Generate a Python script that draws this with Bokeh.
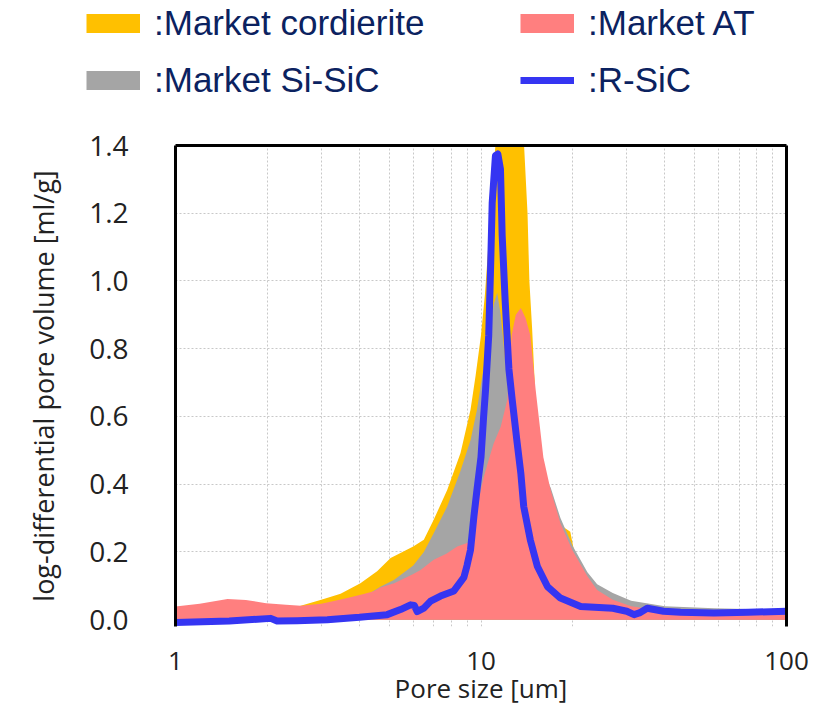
from bokeh.plotting import figure
from bokeh.models import (Range1d, FixedTicker, LinearAxis, LogAxis, Legend, LegendItem,
                          NumeralTickFormatter, CustomJSTickFormatter)
from bokeh.layouts import column
from bokeh.embed import file_html
from bokeh.resources import INLINE

# ---------------- data ----------------
series_names = [":Market cordierite", ":Market AT", ":Market Si-SiC", ":R-SiC"]

cord_x = [1.0, 1.5, 2.0, 2.57, 3.0, 3.47, 4.03, 4.57, 5.06, 5.45, 6.0, 6.5, 7.0, 7.75, 8.57,
          9.24, 9.6, 10.0, 10.3, 10.6, 10.9, 11.2, 11.4, 13.4, 13.8, 14.2, 14.4, 14.7, 15.1,
          16.0, 16.9, 18.2, 19.6, 20.2, 20.8, 22.0, 25.0, 30.0, 40.0, 60.0, 100.0]
cord_y = [0.010, 0.015, 0.022, 0.041, 0.059, 0.077, 0.108, 0.143, 0.182, 0.197, 0.216, 0.236,
          0.295, 0.383, 0.492, 0.62, 0.72, 0.84, 0.96, 1.12, 1.30, 1.42, 1.50, 1.50, 1.42, 1.20,
          1.00, 0.86, 0.64, 0.46, 0.37, 0.28, 0.26, 0.20, 0.10, 0.06, 0.035, 0.022, 0.013,
          0.008, 0.005]

sisic_x = [1.0, 2.0, 3.0, 4.0, 4.7, 5.2, 6.0, 6.5, 7.0, 7.75, 8.57, 9.24, 9.7, 10.1, 10.6,
           11.0, 11.3, 11.6, 11.9, 12.3, 13.0, 14.0, 15.0, 16.0, 16.9, 18.2, 19.9, 22.3, 24.0,
           27.0, 31.0, 40.0, 58.0, 80.0, 100.0]
sisic_y = [0.005, 0.012, 0.030, 0.060, 0.098, 0.118, 0.160, 0.200, 0.255, 0.334, 0.440, 0.530,
           0.620, 0.720, 0.840, 0.930, 0.965, 0.900, 0.800, 0.660, 0.550, 0.500, 0.460, 0.430,
           0.390, 0.300, 0.220, 0.140, 0.105, 0.079, 0.056, 0.040, 0.034, 0.031, 0.028]

at_x = [1.0, 1.2, 1.48, 1.7, 1.98, 2.3, 2.57, 3.0, 3.3, 3.65, 4.1, 4.46, 4.69, 5.2, 6.0, 6.34,
        7.0, 7.7, 8.36, 9.25, 9.5, 9.8, 10.2, 10.5, 11.0, 11.6, 12.2, 12.4, 12.6, 13.0, 13.5,
        14.0, 14.5, 15.1, 16.0, 16.9, 18.2, 19.9, 22.3, 24.0, 27.0, 31.0, 40.0, 60.0, 100.0]
at_y = [0.039, 0.047, 0.061, 0.058, 0.049, 0.044, 0.041, 0.047, 0.055, 0.064, 0.075, 0.084,
        0.095, 0.108, 0.135, 0.147, 0.177, 0.195, 0.216, 0.230, 0.280, 0.350, 0.420, 0.460,
        0.520, 0.570, 0.650, 0.750, 0.840, 0.900, 0.920, 0.890, 0.840, 0.678, 0.480, 0.383,
        0.285, 0.206, 0.128, 0.088, 0.059, 0.040, 0.025, 0.018, 0.015]

rsic_x = [1.0, 1.5, 2.05, 2.15, 2.5, 3.14, 4.0, 4.93, 5.45, 5.88, 6.05, 6.18, 6.5, 6.84, 7.37,
          8.15, 8.79, 9.0, 9.24, 9.48, 9.7, 10.0, 10.2, 10.35, 10.6, 10.75, 10.88, 11.15, 11.35,
          11.58, 11.73, 12.0, 12.34, 12.65, 13.1, 13.5, 13.8, 14.5, 15.3, 16.5, 18.2, 21.2,
          27.0, 30.0, 31.7, 33.0, 35.0, 39.6, 45.0, 57.8, 75.0, 100.0]
rsic_y = [-0.008, -0.004, 0.004, -0.004, -0.003, 0.000, 0.007, 0.015, 0.030, 0.044, 0.042,
          0.024, 0.034, 0.055, 0.070, 0.085, 0.125, 0.160, 0.206, 0.305, 0.383, 0.480, 0.600,
          0.680, 0.840, 1.040, 1.230, 1.370, 1.375, 1.330, 1.135, 0.940, 0.740, 0.650, 0.530,
          0.433, 0.334, 0.236, 0.157, 0.098, 0.064, 0.039, 0.034, 0.025, 0.015, 0.020, 0.034,
          0.025, 0.022, 0.020, 0.022, 0.025]

x_ticks = [1, 10, 100]
x_grid = [2, 3, 4, 5, 6, 7, 8, 9, 10, 20, 30, 40, 50, 60, 70, 80, 90]
y_ticks = [0.0, 0.2, 0.4, 0.6, 0.8, 1.0, 1.2, 1.4]
x_title = "Pore size [um]"
y_title = "log-differential pore volume [ml/g]"

C_CORD = "#FFC000"
C_AT = "#FF7F7F"
C_SISIC = "#A5A5A5"
C_RSIC = "#3535F2"
TXT = "#222222"
LEG_TXT = "#0B2260"
AX_FONT = "Open Sans"

# ---------------- legend strip ----------------
lg = figure(width=820, height=110, output_backend="svg", toolbar_location=None,
            x_range=Range1d(0, 1), y_range=Range1d(0, 1), min_border=0,
            x_axis_location=None, y_axis_location=None, outline_line_color=None)
lg.grid.visible = False
# do not align this strip's frame with the chart's frame: legends are clipped to the frame
if "frame_align" in lg.properties():
    lg.frame_align = False

# key renderers: their points lie outside the strip's range, only their legend keys show
d_cord = lg.line(x=[0, 1], y=[5, 5], line_color=C_CORD, line_width=19)
d_at = lg.line(x=[0, 1], y=[5, 5], line_color=C_AT, line_width=19)
d_sisic = lg.line(x=[0, 1], y=[5, 5], line_color=C_SISIC, line_width=19)
d_rsic = lg.line(x=[0, 1], y=[5, 5], line_color=C_RSIC, line_width=7)


def make_legend(items, loc):
    return Legend(items=items, location=loc, orientation="vertical",
                  padding=0, margin=0, spacing=17, label_standoff=14,
                  glyph_width=54, glyph_height=40, label_height=40,
                  label_text_font="Liberation Sans", label_text_font_size="35px",
                  label_text_color=LEG_TXT, border_line_color=None,
                  background_fill_alpha=0)


lg.add_layout(make_legend([LegendItem(label=series_names[0], renderers=[d_cord]),
                           LegendItem(label=series_names[2], renderers=[d_sisic])], (86, 10)))
lg.add_layout(make_legend([LegendItem(label=series_names[1], renderers=[d_at]),
                           LegendItem(label=series_names[3], renderers=[d_rsic])], (520, 10)))

# ---------------- main chart ----------------
p = figure(width=820, height=604, x_axis_type="log",
           x_range=Range1d(1, 100), y_range=Range1d(-0.02, 1.4),
           output_backend="svg", toolbar_location=None,
           min_border_left=175, min_border_right=34, min_border_top=35,
           min_border_bottom=88, outline_line_color=None, background_fill_color="white")
if "frame_align" in p.properties():
    p.frame_align = False

p.varea(x=cord_x, y1=0, y2=cord_y, fill_color=C_CORD)
p.varea(x=sisic_x, y1=0, y2=sisic_y, fill_color=C_SISIC)
p.varea(x=at_x, y1=0, y2=at_y, fill_color=C_AT)
p.line(x=rsic_x, y=rsic_y, line_color=C_RSIC, line_width=7, line_join="round")

# grids
p.xgrid.ticker = FixedTicker(ticks=x_grid)
p.ygrid.ticker = FixedTicker(ticks=y_ticks[1:])
for g in (p.xgrid, p.ygrid):
    g.grid_line_color = "#c8c8c8"
    g.grid_line_dash = "2 2"
    g.grid_line_width = 1

# y axis
ya = p.yaxis[0]
ya.ticker = FixedTicker(ticks=y_ticks)
ya.formatter = NumeralTickFormatter(format="0.0")
ya.axis_line_color = "black"
ya.axis_line_width = 3
ya.major_tick_in = 0
ya.major_tick_out = 0
ya.minor_tick_line_color = None
ya.major_label_standoff = 47
ya.major_label_text_font = AX_FONT
ya.major_label_text_font_size = "28px"
ya.major_label_text_color = TXT
ya.axis_label = y_title
ya.axis_label_standoff = 24
ya.axis_label_text_font = AX_FONT
ya.axis_label_text_font_size = "27px"
ya.axis_label_text_font_style = "normal"
ya.axis_label_text_color = TXT

# x axis
xa = p.xaxis[0]
xa.ticker = FixedTicker(ticks=x_ticks)
xa.formatter = CustomJSTickFormatter(code="return String(Math.round(tick));")
xa.axis_line_color = None
xa.major_tick_line_color = None
xa.major_tick_in = 0
xa.major_tick_out = 0
xa.minor_tick_line_color = None
xa.minor_tick_out = 0
xa.major_label_standoff = 25
xa.major_label_text_font = AX_FONT
xa.major_label_text_font_size = "26px"
xa.major_label_text_color = TXT
xa.axis_label = x_title
xa.axis_label_standoff = -3
xa.axis_label_text_font = AX_FONT
xa.axis_label_text_font_size = "26px"
xa.axis_label_text_font_style = "normal"
xa.axis_label_text_color = TXT

# frame lines on top and right (no bottom line in the reference)
for ax, place in ((LinearAxis(), "right"), (LogAxis(), "above")):
    ax.ticker = FixedTicker(ticks=[])
    ax.axis_line_color = "black"
    ax.axis_line_width = 3
    ax.major_tick_line_color = None
    ax.minor_tick_line_color = None
    ax.major_label_text_font_size = "0px"
    p.add_layout(ax, place)

layout = column(lg, p, spacing=0)
open("out.html", "w").write(file_html(layout, INLINE))
